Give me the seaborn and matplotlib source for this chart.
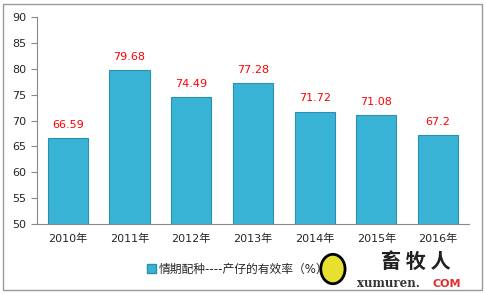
import matplotlib
matplotlib.use("Agg")
import matplotlib.pyplot as plt
import seaborn as sns
import pandas as pd
import numpy as np
from matplotlib.patches import Rectangle, Ellipse

years = ["2010年", "2011年", "2012年", "2013年", "2014年", "2015年", "2016年"]
values = [66.59, 79.68, 74.49, 77.28, 71.72, 71.08, 67.2]
value_labels = ["66.59", "79.68", "74.49", "77.28", "71.72", "71.08", "67.2"]
series_name = "情期配种----产仔的有效率（%）"
yticks = [50, 55, 60, 65, 70, 75, 80, 85, 90]

sns.set_style("white")
plt.rcParams['font.family'] = ['DejaVu Sans', 'Noto Sans CJK SC']

df = pd.DataFrame({"year": years, "value": values})

fig = plt.figure(figsize=(4.86, 2.94), dpi=100)
ax = fig.add_axes([0.076, 0.238, 0.889, 0.704])

sns.barplot(data=df, x="year", y="value", color="#3ab4d6", width=0.65,
            edgecolor="#2b8fae", linewidth=0.8, saturation=1, ax=ax)

ax.set_ylim(50, 90)
ax.set_xlim(-0.5, 6.5)
ax.set_yticks(yticks)
ax.set_yticklabels([str(t) for t in yticks], fontsize=8)
ax.set_xlabel("")
ax.set_ylabel("")
ax.tick_params(axis='x', length=0, labelsize=8, pad=7)
ax.set_xticks(np.arange(-0.5, 7, 1), minor=True)
ax.tick_params(axis='x', which='minor', length=4, color="#888888", width=0.8)
ax.tick_params(axis='y', length=4, color="#888888", width=0.8, left=True, labelsize=8)

for s in ["top", "right"]:
    ax.spines[s].set_visible(False)
for s in ["left", "bottom"]:
    ax.spines[s].set_color("#888888")
    ax.spines[s].set_linewidth(0.8)

for i, (v, lab) in enumerate(zip(values, value_labels)):
    ax.text(i, v + 1.6, lab, ha="center", va="bottom", color="red", fontsize=8)

# legend
handle = Rectangle((0, 0), 1, 1, facecolor="#3ab4d6", edgecolor="#2b8fae")
leg = fig.legend([handle], [series_name], loc="center left", bbox_to_anchor=(0.303, 0.085),
                 frameon=False, fontsize=8.5, handlelength=0.7, handleheight=0.7,
                 handletextpad=0.3, borderaxespad=0, borderpad=0)

# watermark logo
fig.patches.append(Rectangle((0.648, 0.02), 0.34, 0.125, transform=fig.transFigure,
                             facecolor="white", edgecolor="none", zorder=5))
fig.patches.append(Ellipse((0.685, 0.085), 0.05, 0.1, transform=fig.transFigure,
                           facecolor="#e8e030", edgecolor="black", linewidth=2, zorder=6))
fig.text(0.855, 0.112, "畜 牧 人", ha="center", va="center", fontsize=14.5,
         fontweight="bold", color="#222222", zorder=7,
         family=['Noto Sans CJK SC'])
fig.text(0.8, 0.035, "xumuren.", ha="center", va="center", fontsize=8.5,
         fontweight="bold", color="#333333", zorder=7, family=['DejaVu Serif'])
fig.text(0.92, 0.035, "COM", ha="center", va="center", fontsize=8,
         fontweight="bold", color="#e03030", zorder=7)

# outer frame
fig.patches.append(Rectangle((0.006, 0.012), 0.986, 0.976, transform=fig.transFigure,
                             facecolor="none", edgecolor="#999999", linewidth=1, zorder=8))

fig.savefig("out.png", dpi=100)
